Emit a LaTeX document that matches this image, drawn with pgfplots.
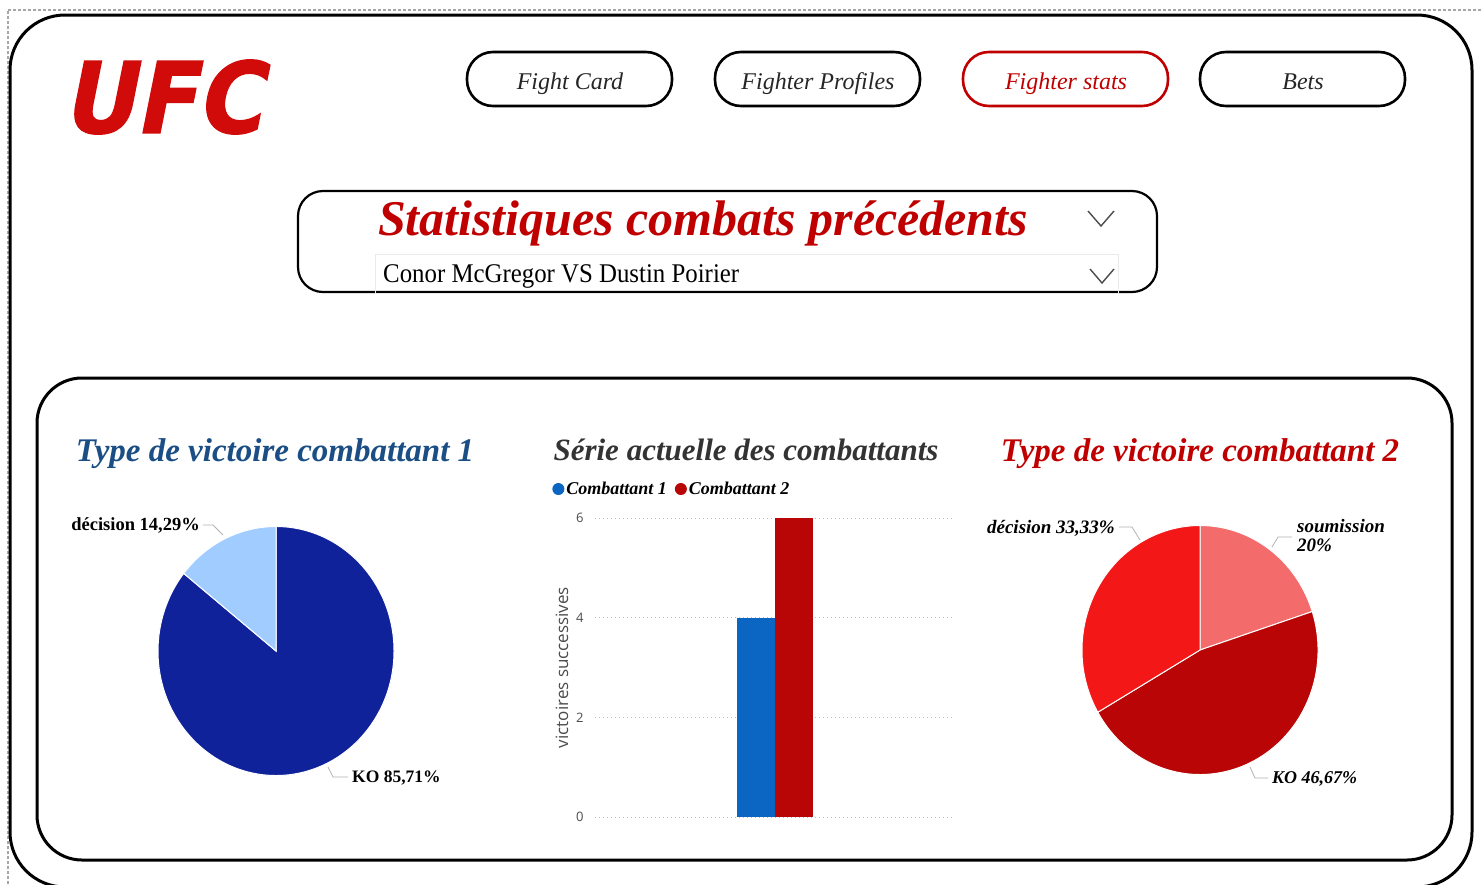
\documentclass[border=0pt]{standalone}
\usepackage{fontspec}
\usepackage{graphicx}
\usepackage{pgfplots}
\pgfplotsset{compat=1.18}
\setmainfont{Liberation Serif}
\newfontfamily\sansf{Open Sans}
\newfontfamily\logofont{DejaVu Sans}[FakeSlant=0.22, FakeBold=1.5]
\newfontfamily\condf{Liberation Serif}[FakeStretch=0.92]
\newcommand{\fs}[1]{\fontsize{#1}{#1}\selectfont}
\definecolor{ufcred}{HTML}{D10A0A}
\definecolor{titred}{HTML}{C00000}
\definecolor{titblue}{HTML}{1A4E85}
\definecolor{pieKOa}{HTML}{10229A}
\definecolor{pieDeca}{HTML}{A0CCFF}
\definecolor{pieSoub}{HTML}{F36B6B}
\definecolor{pieKOb}{HTML}{B90505}
\definecolor{pieDecb}{HTML}{F31717}
\definecolor{barA}{HTML}{0A66C2}
\definecolor{barB}{HTML}{B80606}
\newcommand{\pieslice}[3]{\fill[#1,draw=white,line width=1pt] (axis cs:0,0) -- (axis cs:{cos(#2)},{sin(#2)}) arc[start angle=#2, end angle=#3, x radius=118pt, y radius=124.5pt] -- cycle;}
% data (percent)
\def\aKO{85.71}\def\aDec{14.29}
\def\bSou{20}\def\bKO{46.67}\def\bDec{33.33}
\pgfmathsetmacro{\aone}{90-3.6*\aKO}
\pgfmathsetmacro{\atwo}{\aone-3.6*\aDec}
\pgfmathsetmacro{\bone}{90-3.6*\bSou}
\pgfmathsetmacro{\btwo}{\bone-3.6*\bKO}
\pgfmathsetmacro{\bthree}{\btwo-3.6*\bDec}
\begin{document}
\begin{tikzpicture}[x=1pt,y=1pt]
\useasboundingbox (0,0) rectangle (1482,-884);
\begin{scope}
\clip (0,0) rectangle (1482,-884);
\fill[white] (0,0) rectangle (1482,-884);
\draw[gray!70, line width=1.5pt, dash pattern=on 3pt off 2pt] (8,-884) -- (8,-10);
\draw[gray!70, line width=1.5pt, dash pattern=on 3pt off 2pt] (8,-10) -- (1482,-10);
\draw[line width=3pt, rounded corners=55pt] (10,-15) rectangle (1472,-887);
\end{scope}
% logo
\node[anchor=center, inner sep=0, text=ufcred] at (162,-97) {\resizebox{200pt}{73pt}{\logofont\bfseries UFC}};
% buttons
\draw[line width=2.6pt, rounded corners=26pt] (467,-52) rectangle (672,-106);
\draw[line width=2.6pt, rounded corners=26pt] (715,-52) rectangle (920,-106);
\draw[titred, line width=2.6pt, rounded corners=26pt] (963,-52) rectangle (1168,-106);
\draw[line width=2.6pt, rounded corners=26pt] (1200,-52) rectangle (1405,-106);
\node[anchor=base, text=black!85, font=\itshape\fs{24}] at (570,-89) {Fight Card};
\node[anchor=base, text=black!85, font=\itshape\fs{24}] at (818,-89) {Fighter Profiles};
\node[anchor=base, text=titred, font=\itshape\fs{24}] at (1066,-89) {Fighter stats};
\node[anchor=base, text=black!85, font=\itshape\fs{24}] at (1303,-89) {Bets};
% dropdown
\draw[line width=2.2pt, rounded corners=25pt] (298,-191) rectangle (1157,-292);
\draw[black!8, line width=1pt] (375,-254) rectangle (1118,-293);
\node[anchor=base, text=titred, font=\bfseries\itshape\fs{50}] at (703,-235) {Statistiques combats précédents};
\node[anchor=base west, inner sep=0, font=\condf\fs{27}] at (383,-282) {Conor McGregor VS Dustin Poirier};
\draw[black!70, line width=1.4pt] (1088,-211) -- (1101,-226) -- (1114,-211);
\draw[black!70, line width=1.4pt] (1090,-269) -- (1102,-283) -- (1114,-269);
% inner panel
\draw[line width=3pt, rounded corners=45pt] (37,-378) rectangle (1452,-860);
% titles
\node[anchor=base, text=titblue, font=\bfseries\itshape\fs{33}] at (275,-461) {Type de victoire combattant 1};
\node[anchor=base, text=titred, font=\bfseries\itshape\fs{33}] at (1200,-461) {Type de victoire combattant 2};
\node[anchor=base, text=black!80, font=\bfseries\itshape\fs{31}] at (746,-460) {Série actuelle des combattants};
% bar chart
\begin{axis}[
 at={(595pt,-817pt)}, anchor=south west,
 width=360pt, height=299pt, scale only axis,
 xmin=-1, xmax=1, ymin=0, ymax=6,
 ybar=0pt, bar width=38pt,
 axis x line=none, axis y line*=left,
 y axis line style={draw=none},
 major tick length=0pt,
 ytick={0,2,4,6},
 ymajorgrids, grid style={gray!50, line width=0.8pt, dash pattern=on 1pt off 3pt},
 yticklabel style={font=\sansf\fs{13}, text=black!70, xshift=-8pt},
 /pgf/number format/assume math mode=true,
 ylabel={victoires successives},
 ylabel style={font=\sansf\fs{17}, text=black!70, at={(axis description cs:-0.092,0.5)}, anchor=center},
 legend style={at={(axis description cs:-0.119,1.097)}, anchor=west, draw=none, fill=none, legend columns=2, font=\bfseries\itshape\fs{18}, /tikz/every even column/.style={column sep=6pt}, inner sep=0pt},
 legend image code/.code={\fill[#1,draw=none] (4pt,0pt) circle (6pt);},
 clip=false,
]
\addplot[fill=barA, draw=none] coordinates {(0,4)};
\addplot[fill=barB, draw=none] coordinates {(0,6)};
\legend{Combattant 1, Combattant 2}
\end{axis}
% pie 1
\begin{axis}[at={(276pt,-651pt)}, anchor=center, width=236pt, height=249pt, scale only axis, hide axis, xmin=-1, xmax=1, ymin=-1, ymax=1, clip=false]
\pieslice{pieKOa}{90}{\aone}
\pieslice{pieDeca}{\aone}{\atwo}
\end{axis}
% pie 2
\begin{axis}[at={(1200pt,-650pt)}, anchor=center, width=236pt, height=249pt, scale only axis, hide axis, xmin=-1, xmax=1, ymin=-1, ymax=1, clip=false]
\pieslice{pieSoub}{90}{\bone}
\pieslice{pieKOb}{\bone}{\btwo}
\pieslice{pieDecb}{\btwo}{\bthree}
\end{axis}
% labels
\draw[gray!60, line width=0.8pt] (203,-525) -- (213,-525) -- (223,-535);
\draw[gray!60, line width=0.8pt] (328,-767) -- (333,-777) -- (348,-777);
\draw[gray!60, line width=0.8pt] (1119,-527) -- (1132,-527) -- (1140,-540);
\draw[gray!60, line width=0.8pt] (1272,-547) -- (1278,-537) -- (1292,-537);
\draw[gray!60, line width=0.8pt] (1250,-767) -- (1255,-778) -- (1268,-778);
\node[anchor=base east, inner sep=0, font=\bfseries\fs{18.5}] at (200,-530) {décision 14,29\%};
\node[anchor=base west, inner sep=0, font=\bfseries\fs{17.5}] at (352,-782) {KO 85,71\%};
\node[anchor=base east, inner sep=0, font=\bfseries\itshape\fs{19}] at (1115,-533) {décision 33,33\%};
\node[anchor=base west, inner sep=0, font=\bfseries\itshape\fs{19}] at (1297,-532) {soumission};
\node[anchor=base west, inner sep=0, font=\bfseries\itshape\fs{19}] at (1297,-551) {20\%};
\node[anchor=base west, inner sep=0, font=\bfseries\itshape\fs{18}] at (1272,-783) {KO 46,67\%};
\end{tikzpicture}
\end{document}
